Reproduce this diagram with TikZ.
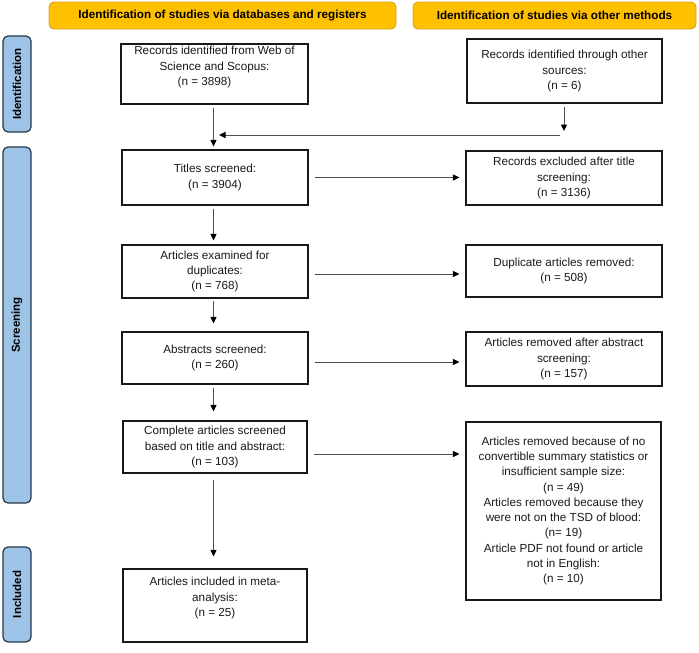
\documentclass[tikz,border=0pt]{standalone}
\usepackage{fontspec}
\setmainfont{Liberation Sans}
\usetikzlibrary{arrows.meta}
\definecolor{hdrfill}{HTML}{FFC000}
\definecolor{hdrline}{HTML}{D9A11A}
\definecolor{sidefill}{HTML}{9DC3E6}
\definecolor{sideline}{HTML}{26374A}
\definecolor{arrline}{HTML}{505050}
\definecolor{txtcol}{HTML}{1A1A1A}
\begin{document}
\begin{tikzpicture}[x=1pt,y=-1pt,
  hdr/.style={draw=hdrline, fill=hdrfill, rounded corners=5pt, line width=0.9pt,
    minimum height=27pt, inner sep=0pt, font=\fontsize{11.7}{14}\selectfont\bfseries},
  side/.style={draw=sideline, fill=sidefill, rounded corners=5pt, line width=1.2pt,
    rotate=90, minimum height=28pt, inner sep=0pt, font=\fontsize{11.5}{14}\selectfont\bfseries},
  box/.style={draw=black!90, line width=1.1pt, fill=white, align=center, inner sep=2pt,
    text=txtcol, font=\fontsize{11.7}{15.3}\selectfont},
  txt/.style={align=center, inner sep=0pt, text=txtcol, font=\fontsize{11.7}{15.3}\selectfont},
  arr/.style={draw=arrline, line width=0.9pt, -{Triangle[length=6.5pt,width=6pt,color=black]}},
  plain/.style={draw=arrline, line width=0.9pt}
]
\useasboundingbox (0,0) rectangle (699,653);

% headers
\node[hdr, minimum width=347pt] (h1) at (222.5,15.5) {Identification of studies via databases and registers};
\node[hdr, minimum width=283pt] (h2) at (554.5,15.5) {Identification of studies via other methods};

% side labels
\node[side, minimum width=96pt] (s1) at (17,84) {Identification};
\node[side, minimum width=356pt] (s2) at (17,325) {Screening};
\node[side, minimum width=95pt] (s3) at (17,594.5) {Included};

% left column
\node[box, minimum width=187pt, minimum height=60pt] (rec) at (214.5,74) {};
\node[txt] (rect) at (214.5,67) {Records identified from Web of\\Science and Scopus:\\(n = 3898)\hspace*{20pt}};
\node[box, minimum width=186pt, minimum height=55pt] (tit) at (215,177.5) {Titles screened:\\(n = 3904)};
\node[box, minimum width=186pt, minimum height=53pt] (ae) at (215,271.5) {Articles examined for\\duplicates:\\(n = 768)};
\node[box, minimum width=186pt, minimum height=52pt] (abs) at (215,358) {Abstracts screened:\\(n = 260)};
\node[box, minimum width=184pt, minimum height=52pt] (com) at (215,447) {Complete articles screened\\based on title and abstract:\\(n = 103)};
\node[box, minimum width=184pt, minimum height=73pt] (inc) at (215,605.5) {};
\node[txt] (inct) at (215,598) {Articles included in meta-\\analysis:\\(n = 25)};

% right column
\node[box, minimum width=195pt, minimum height=64pt] (oth) at (564.5,71) {Records identified through other\\sources:\\(n = 6)};
\node[box, minimum width=196pt, minimum height=54pt] (exc) at (564,178) {Records excluded after title\\screening:\\(n = 3136)};
\node[box, minimum width=196pt, minimum height=52pt] (dup) at (564,271) {Duplicate articles removed:\\(n = 508)};
\node[box, minimum width=196pt, minimum height=54pt] (abr) at (564,359) {Articles removed after abstract\\screening:\\(n = 157)};
\node[box, minimum width=195pt, minimum height=178pt] (big) at (563.5,511) {Articles removed because of no\\convertible summary statistics or\\insufficient sample size:\\(n = 49)\\Articles removed because they\\were not on the TSD of blood:\\(n= 19)\\Article PDF not found or article\\not in English:\\(n = 10)};

% junction coordinates
\coordinate (j1) at (564,131);
\coordinate (j2) at (560,135);
\coordinate (j3) at (219,135);

% vertical connectors
\draw[arr, shorten <=3pt, shorten >=3pt] ([xshift=-1pt]rec.south) -- ([xshift=-1pt]rec.south |- tit.north);
\draw[arr, shorten <=3pt] ([xshift=-0.5pt]oth.south) -- (j1);
\draw[arr] (j2) -- (j3);
\draw[arr, shorten <=3pt, shorten >=4pt] ([xshift=-1.5pt]tit.south) -- ([xshift=-1.5pt]ae.north);
\draw[arr, shorten <=2pt, shorten >=8pt] ([xshift=-1.5pt]ae.south) -- ([xshift=-1.5pt]abs.north);
\draw[arr, shorten <=3pt, shorten >=9pt] ([xshift=-1.5pt]abs.south) -- ([xshift=-1.5pt]com.north);
\draw[arr, shorten <=6pt, shorten >=12pt] ([xshift=-1.5pt]com.south) -- ([xshift=-1.5pt]inc.north);

% horizontal connectors
\draw[arr, shorten <=6pt, shorten >=6pt] (tit.east) -- (exc.west |- tit.east);
\draw[arr, shorten <=6pt, shorten >=6pt] (ae.east |- 0,274) -- (dup.west |- 0,274);
\draw[arr, shorten <=6pt, shorten >=6pt] (abs.east |- 0,362) -- (abr.west |- 0,362);
\draw[arr, shorten <=6pt, shorten >=6pt] (com.east |- 0,454) -- (big.west |- 0,454);
\end{tikzpicture}
\end{document}
